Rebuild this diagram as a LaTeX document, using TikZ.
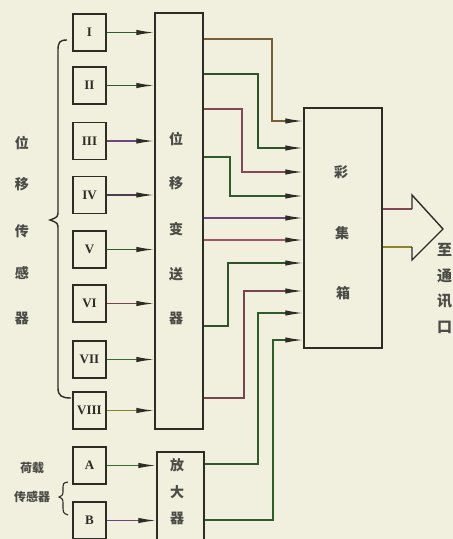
\documentclass[tikz,border=0pt]{standalone}
\usepackage{fontspec}
\setmainfont{Liberation Serif}
\newfontfamily\cjk{Noto Sans CJK SC}
\usetikzlibrary{arrows.meta}
\definecolor{bg}{RGB}{241,239,222}
\definecolor{ink}{RGB}{45,45,38}
\definecolor{cgreen}{RGB}{50,110,45}
\definecolor{cpink}{RGB}{165,85,110}
\definecolor{cpurple}{RGB}{110,70,125}
\definecolor{cyellow}{RGB}{140,130,45}
\definecolor{cbrown}{RGB}{120,95,60}
\begin{document}
\begin{tikzpicture}[x=1pt,y=-1pt,
  box/.style={draw=ink, line width=1.5pt, inner sep=0pt},
  sensor/.style={box, minimum width=33pt, minimum height=37pt, text=ink, font=\bfseries\fontsize{13}{13}\selectfont},
  wire/.style={line width=1.4pt, -{Latex[length=18pt,width=5.5pt,color=ink]}},
  plain/.style={line width=1.4pt, draw=ink},
  cjklab/.style={font=\cjk\bfseries\fontsize{14}{14}\selectfont, inner sep=0pt, text=ink!85},
  smalllab/.style={font=\cjk\bfseries\fontsize{12}{12}\selectfont, inner sep=0pt, text=ink!85},
  rlab/.style={font=\cjk\bfseries\fontsize{15}{15}\selectfont, inner sep=0pt, text=ink!85, anchor=west},
]
\useasboundingbox (0,0) rectangle (453,539);
\fill[bg] (0,0) rectangle (453,539);

% sensors
\node[sensor] (s1) at (89.5,32.5) {I};
\node[sensor] (s2) at (89.5,85.5) {II};
\node[sensor] (s3) at (89.5,141) {III};
\node[sensor] (s4) at (89.5,195) {IV};
\node[sensor] (s5) at (89.5,249.5) {V};
\node[sensor] (s6) at (89.5,303.5) {VI};
\node[sensor] (s7) at (89.5,359.5) {VII};
\node[sensor] (s8) at (89.5,410.5) {VIII};
\node[sensor] (sA) at (89.5,465.5) {A};
\node[sensor] (sB) at (89.5,520.5) {B};

% converter, amplifier, mixer
\node[box, minimum width=48pt, minimum height=416pt] (conv) at (179,221) {};
\node[box, minimum width=47pt, minimum height=93pt] (amp) at (180.5,498.5) {};
\node[box, minimum width=78pt, minimum height=240pt] (mix) at (343,228) {};

% converter text
\node[cjklab] (c1) at (176,139) {位};
\node[cjklab] (c2) at (176,183) {移};
\node[cjklab] (c3) at (176,229) {变};
\node[cjklab] (c4) at (176,274) {送};
\node[cjklab] (c5) at (176,318) {器};
% amplifier text
\node[cjklab] (a1) at (177,465) {放};
\node[cjklab] (a2) at (177,492) {大};
\node[cjklab] (a3) at (177,518) {器};
% mixer text
\node[cjklab] (m1) at (341,172) {彩};
\node[cjklab] (m2) at (342,233) {集};
\node[cjklab] (m3) at (343,293) {箱};
% left label
\node[cjklab] (l1) at (22,143) {位};
\node[cjklab] (l2) at (22,184) {移};
\node[cjklab] (l3) at (22,231) {传};
\node[cjklab] (l4) at (22,273) {感};
\node[cjklab] (l5) at (22,318) {器};
% load label
\node[smalllab] (ld1) at (32,468) {荷载};
\node[smalllab] (ld2) at (32,497) {传感器};
% output label
\node[rlab] (r1) at (437,250) {至};
\node[rlab] (r2) at (437,276) {通};
\node[rlab] (r3) at (437,301) {讯};
\node[rlab] (r4) at (437,327) {口};

% sensor -> converter / amplifier
\draw[wire, cgreen!70!ink] (s1.east) -- (s1.east -| conv.west);
\draw[wire, cgreen!70!ink] (s2.east) -- (s2.east -| conv.west);
\draw[wire, cpurple] (s3.east) -- (s3.east -| conv.west);
\draw[wire, cpurple!50!ink] (s4.east) -- (s4.east -| conv.west);
\draw[wire, cgreen!70!ink] (s5.east) -- (s5.east -| conv.west);
\draw[wire, cpink!60!ink] (s6.east) -- (s6.east -| conv.west);
\draw[wire, cgreen] (s7.east) -- (s7.east -| conv.west);
\draw[wire, cyellow] (s8.east) -- (s8.east -| conv.west);
\draw[wire, cgreen] (sA.east) -- (sA.east -| amp.west);
\draw[wire, cpurple] (sB.east) -- (sB.east -| amp.west);

% converter -> mixer
\draw[wire, cbrown] (conv.east |- 0,39) -| (272,121) -- (mix.west |- 0,121);
\draw[wire, cgreen!60!ink] (conv.east |- 0,74) -| (258,148) -- (mix.west |- 0,148);
\draw[wire, cpink!70!ink] (conv.east |- 0,109) -| (242,172) -- (mix.west |- 0,172);
\draw[wire, cgreen!70!ink] (conv.east |- 0,157) -| (230,196) -- (mix.west |- 0,196);
\draw[wire, cpurple] (conv.east |- 0,218) -- (mix.west |- 0,218);
\draw[wire, cpink] (conv.east |- 0,240) -- (mix.west |- 0,240);
\draw[wire, cgreen!60!ink] (conv.east |- 0,326) -| (228,263) -- (mix.west |- 0,263);
\draw[wire, cpink!60!ink] (conv.east |- 0,398) -| (244,291) -- (mix.west |- 0,291);
\draw[wire, cgreen!70!ink] (amp.east |- 0,464) -| (258,313) -- (mix.west |- 0,313);
\draw[wire, cgreen!70!ink] (amp.east |- 0,520) -| (273,340) -- (mix.west |- 0,340);

% big output arrow
\draw[plain, cpink!70!ink] (mix.east |- 0,209) -- (412,209);
\draw[plain, cyellow] (mix.east |- 0,247) -- (412,247);
\draw[plain] (412,209) -- (412,195) -- (443,229) -- (412,260) -- (412,247);

% braces
\draw[plain] (67,40) .. controls (60,40) and (58,42) .. (58,50) -- (58,210)
  .. controls (58,217) .. (50,220) .. controls (58,223) .. (58,230) -- (58,388)
  .. controls (58,396) and (62,398) .. (71,398);
\draw[plain, line width=1.1pt] (68,482) .. controls (63,483) .. (63,490)
  .. controls (63,495) .. (59,497) .. controls (63,499) .. (63,505)
  .. controls (63,513) .. (68,515);
\end{tikzpicture}
\end{document}
